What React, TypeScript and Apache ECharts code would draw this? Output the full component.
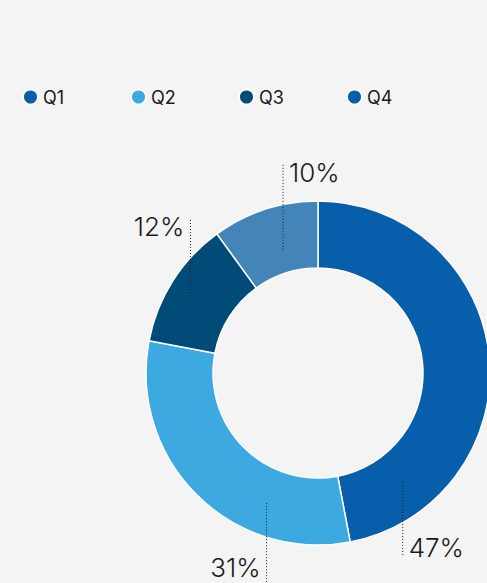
import React, { useEffect, useRef } from "react";
import * as echarts from "echarts";

const categories = ["Q1", "Q2", "Q3", "Q4"];
const values = [47, 31, 12, 10];
const sliceColors = ["#075EAA", "#3CA9E0", "#004B78", "#4485B9"];
const legendColors = ["#075EAA", "#3CA9E0", "#004B78", "#075EAA"];

// label leader geometry (style): fraction along slice, radius, line length, direction, text side
const labelFrac = [0.84, 0.29, 0.47, 0.56];
const labelRadius = [138, 140, 149, 128];
const labelLen = [75, 80, 78, 85];
const labelDir = [1, 1, -1, -1]; // 1 = down, -1 = up
const labelSide = [1, -1, -1, 1]; // 1 = text right, -1 = text left

const CX = 318;
const CY = 373;
const R_IN = 105;
const R_OUT = 172;
const LEGEND_STEP = 108;
const FONT = "Inter, 'Noto Sans', sans-serif";

export default function App() {
  const ref = useRef<HTMLDivElement>(null);
  useEffect(() => {
    if (!ref.current) return;
    const chart = echarts.init(ref.current, undefined, { renderer: "svg" });
    const total = values.reduce((a, b) => a + b, 0);
    const graphics: any[] = [];
    let start = 0;
    values.forEach((v, i) => {
      const span = (v / total) * 360;
      const a = ((start + labelFrac[i] * span) * Math.PI) / 180;
      start += span;
      const px = CX + labelRadius[i] * Math.sin(a);
      const py = CY - labelRadius[i] * Math.cos(a);
      const ey = py + labelDir[i] * labelLen[i];
      graphics.push({
        type: "line",
        shape: { x1: px, y1: py, x2: px, y2: ey },
        style: { stroke: "#1a1a1a", lineWidth: 1, lineDash: [1, 2] },
        z: 100,
      });
      graphics.push({
        type: "text",
        x: px + labelSide[i] * 6,
        y: labelDir[i] < 0 ? ey - 5 : Math.min(ey + 4, 580),
        style: {
          text: Math.round((v / total) * 100) + "%",
          fill: "#1a1a1a",
          font: `300 26px ${FONT}`,
          align: labelSide[i] > 0 ? "left" : "right",
          verticalAlign: labelDir[i] < 0 ? "top" : "bottom",
        },
        z: 100,
      });
    });
    chart.setOption({
      animation: false,
      backgroundColor: "#F4F4F4",
      legend: categories.map((c, i) => ({
        left: 17 + i * LEGEND_STEP,
        top: 83,
        icon: "circle",
        itemWidth: 15,
        itemHeight: 15,
        textStyle: { fontFamily: FONT, fontSize: 18, color: "#1a1a1a" },
        data: [{ name: c, itemStyle: { color: legendColors[i] } }],
      })),
      series: [
        {
          type: "pie",
          center: [CX, CY],
          radius: [R_IN, R_OUT],
          startAngle: 90,
          clockwise: true,
          label: { show: false },
          labelLine: { show: false },
          itemStyle: { borderColor: "#ffffff", borderWidth: 1.5 },
          emphasis: { disabled: true },
          data: categories.map((c, i) => ({ name: c, value: values[i], itemStyle: { color: sliceColors[i] } })),
        },
      ],
      graphic: graphics,
    });
    return () => chart.dispose();
  }, []);
  return (
    <div
      ref={ref}
      style={{ position: "fixed", left: 0, top: 0, width: 487, height: 583, background: "#F4F4F4" }}
    />
  );
}
